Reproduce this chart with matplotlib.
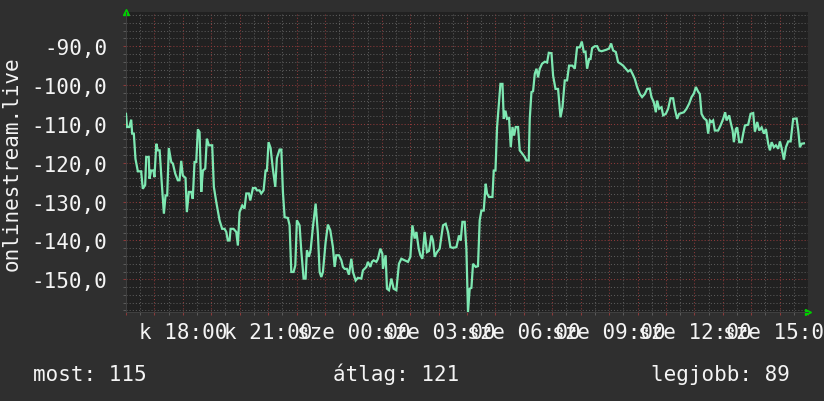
import matplotlib
matplotlib.use("Agg")
import matplotlib.pyplot as plt
from matplotlib.ticker import MultipleLocator, FuncFormatter

# minutes since 16:00 (24 h window) and signal values
minutes = [0, 2, 7, 11, 13, 16.5, 20, 25, 32, 35.5, 40.5, 42.7, 48, 49.6, 53, 58, 60, 64, 67, 71,
           75.6, 80, 83.5, 87, 90.4, 95.5, 99, 104, 109.4, 113, 116.6, 120, 125.7, 128.5, 132.7, 137.7,
           141, 144.7, 148.3, 151.7, 155.3, 158.9, 162.3, 167.3, 170.7, 175, 182, 185.5, 190.6, 197.5,
           203, 208, 211.7, 215, 218.7, 220.8, 227, 232.8, 236.2, 239.8, 245.5, 250.3, 254, 259.4,
           262.4, 268, 273.6, 276.3, 282, 285.6, 290.5, 294.7, 297.5, 301, 305.3, 310, 315.2, 318.6,
           324.3, 328, 331.3, 334.9, 341.8, 345.4, 349, 353.9, 357.5, 360.8, 366.5, 370, 375, 379.2,
           382, 386.2, 389.8, 394.7, 400.4, 405.2, 408.8, 412.4, 415.8, 421.5, 426.3, 431.4, 436.9,
           440.5, 444, 449.6, 454.7, 458, 461.6, 466.5, 470.7, 475.8, 479.2, 484.9, 489.7,
           496.9, 500.3, 507.5, 510.8, 515.9, 519.3, 522.9, 528.6, 532, 537, 541.3, 542.5, 548.2,
           551, 555.2, 560.3, 565.1, 570.8, 576.3, 581.4, 588.4, 595.4, 600.4, 604.7, 609.5, 613.1,
           618, 621.6, 625.8, 630.6, 635.5, 639.7, 644.8, 648.2, 651.8, 656.6, 662.3, 669.3, 675,
           679.9, 684.9, 690.4, 697.6, 703.1, 706.7, 710.3, 715.1, 718.7, 722.1, 725.7, 729.3, 732.7,
           738.4, 743.2, 746.8, 750.4, 755.3, 759.5, 762.3, 766.5, 773.7, 776.5, 780.1, 783.5, 787.1,
           790.6, 794.9, 797.6, 801.2, 804.5, 808.8, 812.4, 816, 819.3, 822.9, 827.8, 831.3, 837,
           841.9, 845.5, 850.4, 852.5, 856.1, 859.5, 863.1, 866.7, 870.1, 873.7, 878.5, 884.2, 889.1,
           892.7, 898.4, 901.8, 906.9, 912.3, 917.4, 921.6, 926.4, 931.3, 935.5, 942.7, 947.6, 952.4,
           958.1, 962.4, 966.6, 970.2, 973.6, 977.8, 980.8, 984.2, 989.9, 994.8, 999, 1004.1, 1009,
           1014.5, 1020, 1024.3, 1028.5, 1034.2, 1039, 1044.1, 1049.6, 1055.3, 1060.1, 1065.2,
           1069.4, 1074.3, 1079.2, 1084.9, 1089.7, 1095.4, 1100.3, 1106, 1109.5, 1114.4, 1118.7,
           1121.4, 1125.7, 1130.7, 1134.1, 1139.8, 1144.7, 1149.7, 1155.2, 1158.8, 1163.7, 1167.9,
           1173, 1177.9, 1183.5, 1189, 1194.1, 1199, 1203.2, 1208.1, 1211.6, 1215.2, 1220.1, 1225.8,
           1229.2, 1232.8, 1236.3, 1239.7, 1243.3, 1250.3, 1255.4, 1260.9, 1265.1, 1268.1, 1273.6,
           1276.5, 1280.8, 1283.5, 1287.8, 1290.5, 1294.8, 1299.8, 1303.2, 1306.8, 1313.7, 1318.8,
           1324.3, 1327.9, 1332.8, 1337, 1342.1, 1346.9, 1351.1, 1356, 1359.6, 1363.2, 1368, 1372.3,
           1377.1, 1380.7, 1384.3, 1389.1, 1393.4, 1398.2, 1403.3, 1408.7, 1415.9, 1419.4, 1422.9,
           1426.5, 1431.4]
values = [-107.4, -110.8, -110.8, -108.9, -112.5, -112.5, -119, -122.2, -122.2, -126.7, -125.7, -118.5,
          -118.5, -124.1, -122, -122, -123.7, -115.1, -116.8, -116.8, -125.4, -133.1, -128.4, -128.4,
          -116.2, -119.8, -120.2, -122.8, -124.5, -124.5, -119.5, -123.3, -123.9, -132.7, -127.5,
          -127.5, -129.3, -119.8, -119.8, -111.4, -112.1, -127.5, -122, -121.5, -113.8, -115.5, -115.5,
          -126.2, -130.1, -134.8, -137, -137, -137.8, -140, -140, -137, -137, -137.8, -141.3, -132.7,
          -131, -131.8, -127.9, -127.9, -129.7, -126.5, -126.5, -127.1, -127.1, -127.9, -127.1, -122,
          -122, -114.7, -116.2, -121.5, -126.2, -118.8, -116.6, -116.6, -127.5, -134, -134.2, -136.1,
          -148.1, -148.1, -146.4, -134.8, -136.1, -142.5, -149.8, -149.8, -142.5, -144.2, -142.5,
          -136.5, -130.5, -138.3, -148.1, -149.4, -148.1, -140.4, -135.9, -137.4, -141.7, -146.8,
          -143.8, -143.8, -145.1, -146.8, -147.3, -147.3, -148.8, -144.7, -148.1, -150.3, -149.6,
          -149.8, -147.7, -146.8, -145.5, -146.8, -145.5, -145.1, -145.5, -144.7, -142.1, -143.4,
          -147.3, -143.8, -152.4, -152.8, -149.8, -152.4, -152.8, -146, -144.7, -145.1, -145.5,
          -144.2, -136.1, -139.5, -137.8, -142.1, -143.8, -144.7, -137.8, -143, -142.7, -138.7, -140,
          -144.2, -143, -142.1, -136.1, -135.7, -137.8, -141.7, -141.9, -141.7, -138.7, -140, -135.2,
          -135.2, -142.1, -158.4, -152.4, -152.2, -146, -146.8, -146.6, -134.8, -132.3, -132.3,
          -125.4, -127.9, -128.8, -128.8, -122, -122, -110.8, -105.3, -99.7, -99.7, -108.7, -106.6,
          -108.7, -108.5, -116, -110.8, -113, -110.8, -110.8, -116.8, -117.7, -118.5, -119.4, -119.4,
          -108.7, -101.8, -101.6, -97.1, -95.8, -98, -95.8, -94.5, -94, -94.2, -91.7, -91.8, -97.6,
          -101, -101, -108.3, -105.7, -98.8, -98.8, -95, -95, -95.8, -90.3, -90.3, -88.8, -91.5,
          -91.4, -95.8, -93.3, -93.3, -90.5, -90, -90, -91.1, -91.3, -91.1, -90.9, -90.6, -89.3,
          -91.1, -91.5, -94.1, -94.5, -95, -95.8, -96.5, -96.1, -97.1, -98.4, -100.5, -102.3, -103.1,
          -102.3, -101, -100.9, -103.1, -104.4, -107, -104, -106.1, -105.7, -107.8, -107.4, -106.1,
          -103.4, -103.4, -106.1, -108.7, -107.4, -107.2, -107, -106.1, -104.8, -103.1, -102.2,
          -100.5, -101.7, -102.3, -107.4, -108.5, -109.1, -112.5, -109.1, -109.5, -109.1, -111.7,
          -111.7, -110.4, -108.7, -107, -109.1, -107.8, -109.5, -111.7, -114.7, -111.3, -110.9,
          -114.7, -114.7, -112.5, -110.4, -110.2, -107.4, -107.2, -112, -109.5, -111.7, -110.9,
          -112.5, -111.3, -115.1, -116.8, -114.7, -116, -115.5, -116.4, -114.5, -116.2, -119.2, -116,
          -114.5, -114.5, -108.7, -108.6, -111.7, -116, -115.1, -115]

label_ticks = [120, 300, 480, 660, 840, 1020, 1200, 1380]
label_texts = ["k 18:00", "k 21:00", "sze 00:00", "sze 03:00",
               "sze 06:00", "sze 09:00", "sze 12:00", "sze 15:00"]
ylabel = "onlinestream.live"
stats = [("most: 115", 33), ("átlag: 121", 333), ("legjobb: 89", 651)]

W, H = 824, 402
plt.rcParams['font.family'] = ['DejaVu Sans Mono']
fs = 15
white = '#f4f4f4'

fig = plt.figure(figsize=(W / 100, H / 100), dpi=100, facecolor='#2f2f2f')
ax = fig.add_axes([126 / W, 1 - 313 / H, 682 / W, 300 / H])
ax.set_facecolor('#212121')

ax.plot(minutes, values, color='#7ee8b2', lw=1.6, solid_joinstyle='miter', zorder=3)

ax.set_xlim(0, 1440)
ax.set_ylim(-158.4, -81.2)

ax.xaxis.set_major_locator(MultipleLocator(60))
ax.xaxis.set_minor_locator(MultipleLocator(30))
lab = dict(zip(label_ticks, label_texts))
ax.xaxis.set_major_formatter(FuncFormatter(lambda v, p: lab.get(int(round(v)), "")))
ax.yaxis.set_major_locator(MultipleLocator(10))
ax.yaxis.set_minor_locator(MultipleLocator(2))
ax.yaxis.set_major_formatter(FuncFormatter(lambda v, p: f"{v:.1f}".replace(".", ",")))

ax.grid(which='minor', color='#5a5a5a', lw=0.75, ls=(0, (1, 2)), zorder=1)
ax.grid(which='major', color='#8c3a3a', lw=0.75, ls=(0, (1, 2)), zorder=2)

ax.tick_params(which='major', color='#8c3a3a', length=2.5, width=0.75, labelcolor=white,
               labelsize=fs)
ax.tick_params(which='minor', color='#5a5a5a', length=2.5, width=0.75)
ax.tick_params(axis='x', which='major', pad=5)
ax.tick_params(axis='y', which='major', pad=11)
for t in ax.get_xticklabels():
    t.set_clip_on(False)

for s in ['top', 'right']:
    ax.spines[s].set_visible(False)
for s in ['left', 'bottom']:
    ax.spines[s].set_color('#404040')
    ax.spines[s].set_linewidth(0.75)

# rrdtool style arrow heads
ax.plot([0], [1.0], marker='^', color='#00d000', ms=5, transform=ax.transAxes, clip_on=False)
ax.plot([1.0], [0], marker='>', color='#00d000', ms=5, transform=ax.transAxes, clip_on=False)

fig.text(12 / W, 1 - 164 / H, ylabel, rotation=90, ha='center', va='center',
         color=white, fontsize=fs)
for txt, x in stats:
    fig.text(x / W, 1 - 381 / H, txt, ha='left', va='baseline', color=white, fontsize=fs)

fig.savefig("out.png", dpi=100, facecolor=fig.get_facecolor())
